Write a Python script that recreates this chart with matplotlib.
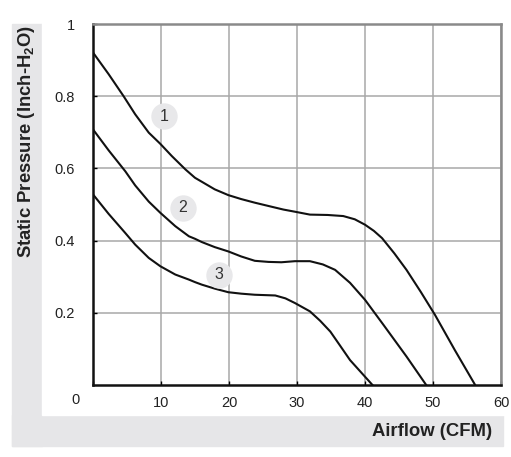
import matplotlib
matplotlib.use("Agg")
import matplotlib.pyplot as plt
from matplotlib.patches import Rectangle

plt.rcParams["font.family"] = ["Liberation Sans", "DejaVu Sans"]
plt.rcParams["mathtext.fontset"] = "custom"
plt.rcParams["mathtext.rm"] = "Liberation Sans"
plt.rcParams["mathtext.bf"] = "Liberation Sans:bold"

# curve points (airflow CFM, static pressure inch-H2O)
x1 = [0, 2.3, 4.5, 6.2, 8.2, 9.9, 11.6, 13.6, 15.0, 16.0, 17.9, 19.9, 21.8,
      23.8, 26.0, 28.0, 29.7, 31.9, 34.5, 36.8, 38.5, 40.0, 41.3, 42.5, 44.3,
      46.1, 48.2, 50.3, 53.2, 56.2]
y1 = [0.921, 0.861, 0.80, 0.75, 0.699, 0.668, 0.634, 0.597, 0.574, 0.563, 0.542,
      0.526, 0.515, 0.505, 0.495, 0.486, 0.48, 0.472, 0.471, 0.468, 0.459, 0.444,
      0.427, 0.407, 0.365, 0.319, 0.258, 0.194, 0.097, 0.0]

x2 = [0, 2.3, 4.75, 6.2, 8.2, 9.9, 12.1, 14.1, 15.0, 16.0, 17.9, 19.9, 21.8,
      23.8, 25.8, 27.7, 29.7, 31.9, 33.8, 35.6, 37.8, 40.0, 42.7, 44.4, 46.1,
      49.0]
y2 = [0.708, 0.65, 0.592, 0.553, 0.508, 0.477, 0.44, 0.412, 0.405, 0.396, 0.382,
      0.37, 0.356, 0.344, 0.341, 0.34, 0.343, 0.343, 0.334, 0.319, 0.283, 0.236,
      0.167, 0.123, 0.079, 0.0]

x3 = [0, 2.3, 4.75, 6.2, 8.2, 9.9, 12.1, 14.1, 15.0, 16.0, 17.9, 19.9, 21.8,
      23.8, 26.8, 28.3, 29.7, 31.9, 33.4, 34.9, 36.3, 37.8, 41.1]
y3 = [0.528, 0.474, 0.421, 0.389, 0.352, 0.329, 0.306, 0.292, 0.285, 0.278, 0.267,
      0.257, 0.253, 0.25, 0.248, 0.24, 0.227, 0.204, 0.178, 0.148, 0.11, 0.069,
      0.0]

curve_labels = ["1", "2", "3"]
label_x = [10.5, 13.2, 18.5]
label_y = [0.745, 0.491, 0.306]

W, H = 511, 457
fig = plt.figure(figsize=(W / 100, H / 100), dpi=100)
fig.patch.set_facecolor("white")

# grey L-shaped label bands behind everything
band = "#e6e6e8"
fig.patches.append(Rectangle((12 / W, 1 - 446 / H), 30 / W, (446 - 24) / H,
                             transform=fig.transFigure, color=band, zorder=-10))
fig.patches.append(Rectangle((12 / W, 1 - 446 / H), 491 / W, 31 / H,
                             transform=fig.transFigure, color=band, zorder=-10))
fig.patches.append(Rectangle((42 / W, 1 - 415 / H), 469 / W, 415 / H,
                             transform=fig.transFigure, color="white", zorder=-9))

ax = fig.add_axes([93 / W, 1 - 385 / H, 408 / W, 361 / H])
ax.set_xlim(0, 60)
ax.set_ylim(0, 1)

for xs, ys in [(x1, y1), (x2, y2), (x3, y3)]:
    ax.plot(xs, ys, color="#111111", lw=1.5, solid_joinstyle="round", zorder=3)

for t, lx, ly in zip(curve_labels, label_x, label_y):
    ax.plot(lx, ly, "o", ms=19, mfc="#e8e8ea", mec="none", zorder=4)
    ax.text(lx, ly, t, ha="center", va="center", fontsize=11.5,
            color="#333333", zorder=5)

ax.set_yticks([0.2, 0.4, 0.6, 0.8, 1.0])
ax.set_yticklabels(["0.2", "0.4", "0.6", "0.8", "1"])
ax.set_xticks([0, 10, 20, 30, 40, 50, 60])
ax.set_xticklabels(["", "10", "20", "30", "40", "50", "60"])
ax.grid(True, color="#a8a8a8", lw=1.1, zorder=1)
ax.set_axisbelow(True)
ax.tick_params(direction="in", length=3, width=1, color="black",
               labelsize=10.5, labelcolor="#222222")
ax.tick_params(axis="y", pad=13)
ax.tick_params(axis="x", pad=8)

for side in ["left", "bottom"]:
    ax.spines[side].set_color("#111111")
    ax.spines[side].set_linewidth(1.8)
for side in ["top", "right"]:
    ax.spines[side].set_color("#8a8a8a")
    ax.spines[side].set_linewidth(1.8)

fig.text(75 / W, 1 - 400 / H, "0", ha="center", va="center", fontsize=10.5,
         color="#222222")
fig.text(27 / W, 1 - 25 / H, r"Static Pressure (Inch-H$_\mathbf{2}$O)",
         rotation=90, ha="center", va="top", fontsize=13.3, fontweight="bold",
         color="#222222")
fig.text(492 / W, 1 - 432 / H, "Airflow (CFM)", ha="right", va="center",
         fontsize=13.3, fontweight="bold", color="#222222")

fig.savefig("out.png", dpi=100)
